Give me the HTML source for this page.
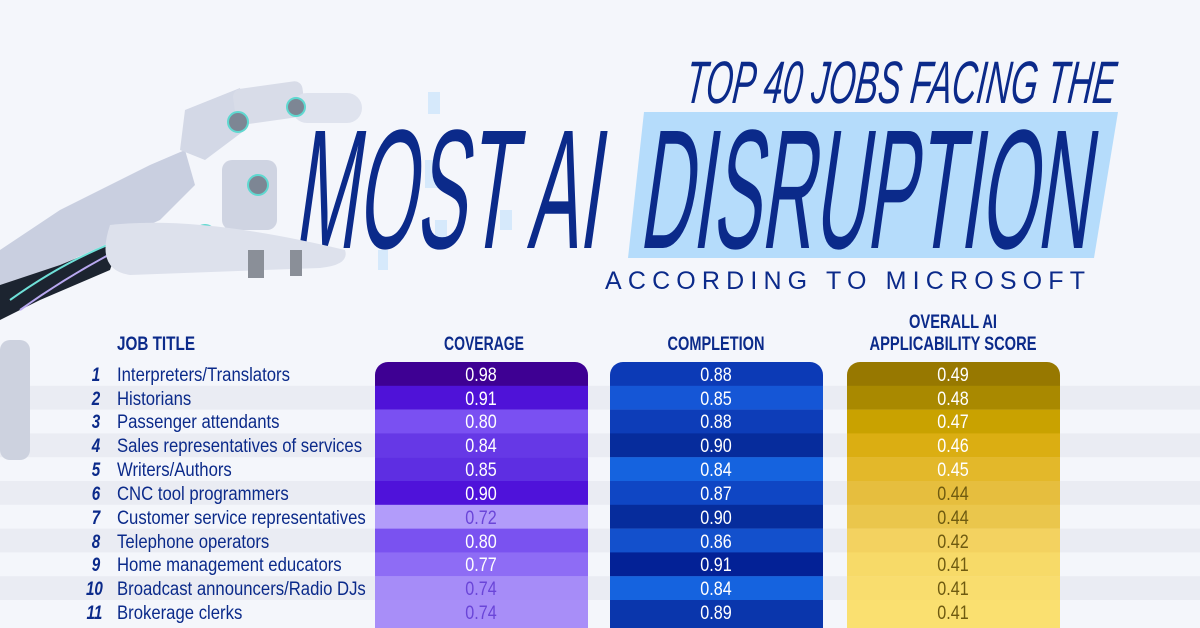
<!DOCTYPE html>
<html><head><meta charset="utf-8"><style>
html,body{margin:0;padding:0;background:#f4f6fb;}
svg{display:block}
text{font-family:"Liberation Sans Narrow","Liberation Sans",sans-serif;}
</style></head><body>
<svg width="1200" height="628" viewBox="0 0 1200 628" xmlns="http://www.w3.org/2000/svg">
<rect width="1200" height="628" fill="#f4f6fb"/>
<g fill="#eaecf3">
<rect x="0" y="385.8" width="1200" height="23.8"/>
<rect x="0" y="433.4" width="1200" height="23.8"/>
<rect x="0" y="481" width="1200" height="23.8"/>
<rect x="0" y="528.6" width="1200" height="23.8"/>
<rect x="0" y="576.2" width="1200" height="23.8"/>
</g>
<g fill="#d6e9fb">
<rect x="428" y="92" width="12" height="22"/><rect x="425" y="160" width="14" height="28"/><rect x="435" y="220" width="12" height="22"/><rect x="378" y="250" width="10" height="20"/><rect x="500" y="210" width="12" height="20"/>
</g>
<polygon points="644,112 1118,112 1094,258 628,258" fill="#b5dcfb"/>
<text x="685" y="103" font-size="60" font-style="italic" fill="#0b2a8a" textLength="430" lengthAdjust="spacingAndGlyphs" transform="skewX(-6) translate(10 0)">TOP 40 JOBS FACING THE</text>
<g transform="skewX(-8) translate(28 0)">
<text x="300" y="248" font-size="170" fill="#0b2a8a" textLength="305" lengthAdjust="spacingAndGlyphs">MOST AI</text>
<text x="645" y="248" font-size="170" fill="#0b2a8a" textLength="450" lengthAdjust="spacingAndGlyphs">DISRUPTION</text>
</g>
<text x="605" y="289" font-size="25" fill="#0b2a8a" textLength="480" lengthAdjust="spacing" font-family="Liberation Sans">ACCORDING TO MICROSOFT</text>
<g>
<polygon points="0,250 60,210 150,165 185,150 195,185 160,220 60,265 0,285" fill="#c9cfe0"/>
<polygon points="0,285 60,265 120,240 110,270 40,300 0,320" fill="#1c2430"/>
<path d="M10,300 Q80,250 150,230" stroke="#6fe0d8" stroke-width="2" fill="none"/>
<path d="M20,310 Q90,260 170,225" stroke="#b8a8f0" stroke-width="2" fill="none"/>
<polygon points="185,110 240,88 245,130 205,160 180,150" fill="#d3d8e6"/>
<rect x="232" y="90" width="70" height="36" rx="8" fill="#d8dce8" transform="rotate(-8 232 90)"/>
<rect x="292" y="93" width="70" height="30" rx="15" fill="#dfe3ee"/>
<circle cx="238" cy="122" r="10" fill="#7d8694" stroke="#5fd8d0" stroke-width="2"/>
<circle cx="296" cy="107" r="9" fill="#7d8694" stroke="#5fd8d0" stroke-width="2"/>
<rect x="222" y="160" width="55" height="70" rx="10" fill="#cfd4e2"/>
<circle cx="258" cy="185" r="10" fill="#7d8694" stroke="#5fd8d0" stroke-width="2"/>
<circle cx="205" cy="235" r="10" fill="#7d8694" stroke="#5fd8d0" stroke-width="2"/>
<path d="M110,225 Q200,215 345,250 Q350,265 320,268 L130,275 Q95,270 110,225Z" fill="#dde1ec"/>
<rect x="248" y="250" width="16" height="28" fill="#8a8f98"/>
<rect x="290" y="250" width="12" height="26" fill="#8a8f98"/>
<rect x="0" y="340" width="30" height="120" rx="10" fill="#cdd2df"/>
</g>
<g fill="#0b2a8a" font-weight="bold">
<text x="117" y="350" font-size="19" textLength="78" lengthAdjust="spacingAndGlyphs">JOB TITLE</text>
<text x="484" y="350" font-size="19" text-anchor="middle" textLength="80" lengthAdjust="spacingAndGlyphs">COVERAGE</text>
<text x="716" y="350" font-size="19" text-anchor="middle" textLength="97" lengthAdjust="spacingAndGlyphs">COMPLETION</text>
<text x="953" y="328" font-size="19" text-anchor="middle" textLength="88" lengthAdjust="spacingAndGlyphs">OVERALL AI</text>
<text x="953" y="350" font-size="19" text-anchor="middle" textLength="167" lengthAdjust="spacingAndGlyphs">APPLICABILITY SCORE</text>
</g>
<defs>
<clipPath id="c1"><rect x="375" y="362" width="213" height="300" rx="13"/></clipPath>
<clipPath id="c2"><rect x="610" y="362" width="213" height="300" rx="13"/></clipPath>
<clipPath id="c3"><rect x="847" y="362" width="213" height="300" rx="13"/></clipPath>
</defs>
<g clip-path="url(#c1)">
<rect x="375" y="362" width="213" height="24" fill="#3e0093"/>
<rect x="375" y="385.8" width="213" height="24" fill="#4f12d8"/>
<rect x="375" y="409.6" width="213" height="24" fill="#7a50f2"/>
<rect x="375" y="433.4" width="213" height="24" fill="#6638e6"/>
<rect x="375" y="457.2" width="213" height="24" fill="#5e2ee2"/>
<rect x="375" y="481" width="213" height="24" fill="#4f12da"/>
<rect x="375" y="504.8" width="213" height="24" fill="#b29cfa"/>
<rect x="375" y="528.6" width="213" height="24" fill="#7a52f0"/>
<rect x="375" y="552.4" width="213" height="24" fill="#8e6cf5"/>
<rect x="375" y="576.2" width="213" height="24" fill="#a68cf8"/>
<rect x="375" y="600" width="213" height="30" fill="#a88ef8"/>
</g>
<g clip-path="url(#c2)">
<rect x="610" y="362" width="213" height="24" fill="#0c3ab6"/>
<rect x="610" y="385.8" width="213" height="24" fill="#1556d6"/>
<rect x="610" y="409.6" width="213" height="24" fill="#0d3db8"/>
<rect x="610" y="433.4" width="213" height="24" fill="#062c9c"/>
<rect x="610" y="457.2" width="213" height="24" fill="#1563df"/>
<rect x="610" y="481" width="213" height="24" fill="#0f46c4"/>
<rect x="610" y="504.8" width="213" height="24" fill="#062c9c"/>
<rect x="610" y="528.6" width="213" height="24" fill="#1350cc"/>
<rect x="610" y="552.4" width="213" height="24" fill="#032196"/>
<rect x="610" y="576.2" width="213" height="24" fill="#1563df"/>
<rect x="610" y="600" width="213" height="30" fill="#0a36ac"/>
</g>
<g clip-path="url(#c3)">
<rect x="847" y="362" width="213" height="24" fill="#977800"/>
<rect x="847" y="385.8" width="213" height="24" fill="#a98900"/>
<rect x="847" y="409.6" width="213" height="24" fill="#c9a200"/>
<rect x="847" y="433.4" width="213" height="24" fill="#dbae12"/>
<rect x="847" y="457.2" width="213" height="24" fill="#e3b82a"/>
<rect x="847" y="481" width="213" height="24" fill="#e6be3e"/>
<rect x="847" y="504.8" width="213" height="24" fill="#eac64c"/>
<rect x="847" y="528.6" width="213" height="24" fill="#f3d260"/>
<rect x="847" y="552.4" width="213" height="24" fill="#f7da68"/>
<rect x="847" y="576.2" width="213" height="24" fill="#f9dd6e"/>
<rect x="847" y="600" width="213" height="30" fill="#fae070"/>
</g>
<g font-size="19" text-anchor="middle">
<g transform="translate(481 0) scale(0.85 1) translate(-481 0)">
<g fill="#fff"><text x="481" y="381">0.98</text><text x="481" y="405">0.91</text><text x="481" y="428">0.80</text><text x="481" y="452">0.84</text><text x="481" y="476">0.85</text><text x="481" y="500">0.90</text><text x="481" y="548">0.80</text><text x="481" y="571">0.77</text></g>
<g fill="#6a45d8"><text x="481" y="524">0.72</text><text x="481" y="595">0.74</text><text x="481" y="619">0.74</text></g>
</g>
<g fill="#fff" transform="translate(716 0) scale(0.85 1) translate(-716 0)">
<text x="716" y="381">0.88</text><text x="716" y="405">0.85</text><text x="716" y="428">0.88</text><text x="716" y="452">0.90</text><text x="716" y="476">0.84</text><text x="716" y="500">0.87</text><text x="716" y="524">0.90</text><text x="716" y="548">0.86</text><text x="716" y="571">0.91</text><text x="716" y="595">0.84</text><text x="716" y="619">0.89</text>
</g>
<g transform="translate(953 0) scale(0.85 1) translate(-953 0)">
<g fill="#fff"><text x="953" y="381">0.49</text><text x="953" y="405">0.48</text><text x="953" y="428">0.47</text><text x="953" y="452">0.46</text><text x="953" y="476">0.45</text></g>
<g fill="#6e5a10"><text x="953" y="500">0.44</text><text x="953" y="524">0.44</text><text x="953" y="548">0.42</text><text x="953" y="571">0.41</text><text x="953" y="595">0.41</text><text x="953" y="619">0.41</text></g>
</g>
</g>
<g font-size="19" fill="#0b2a8a">
<g font-style="italic" font-weight="bold" text-anchor="middle" transform="translate(96 0) scale(0.8 1) translate(-96 0)">
<text x="96" y="381">1</text><text x="96" y="405">2</text><text x="96" y="428">3</text><text x="96" y="452">4</text><text x="96" y="476">5</text><text x="96" y="500">6</text><text x="96" y="524">7</text><text x="96" y="548">8</text><text x="96" y="571">9</text><text x="94" y="595">10</text><text x="94" y="619">11</text>
</g>
<g transform="translate(117 0) scale(0.88 1) translate(-117 0)">
<text x="117" y="381">Interpreters/Translators</text>
<text x="117" y="405">Historians</text>
<text x="117" y="428">Passenger attendants</text>
<text x="117" y="452">Sales representatives of services</text>
<text x="117" y="476">Writers/Authors</text>
<text x="117" y="500">CNC tool programmers</text>
<text x="117" y="524">Customer service representatives</text>
<text x="117" y="548">Telephone operators</text>
<text x="117" y="571">Home management educators</text>
<text x="117" y="595">Broadcast announcers/Radio DJs</text>
<text x="117" y="619">Brokerage clerks</text>
</g>
</g>
</svg>
</body></html>
